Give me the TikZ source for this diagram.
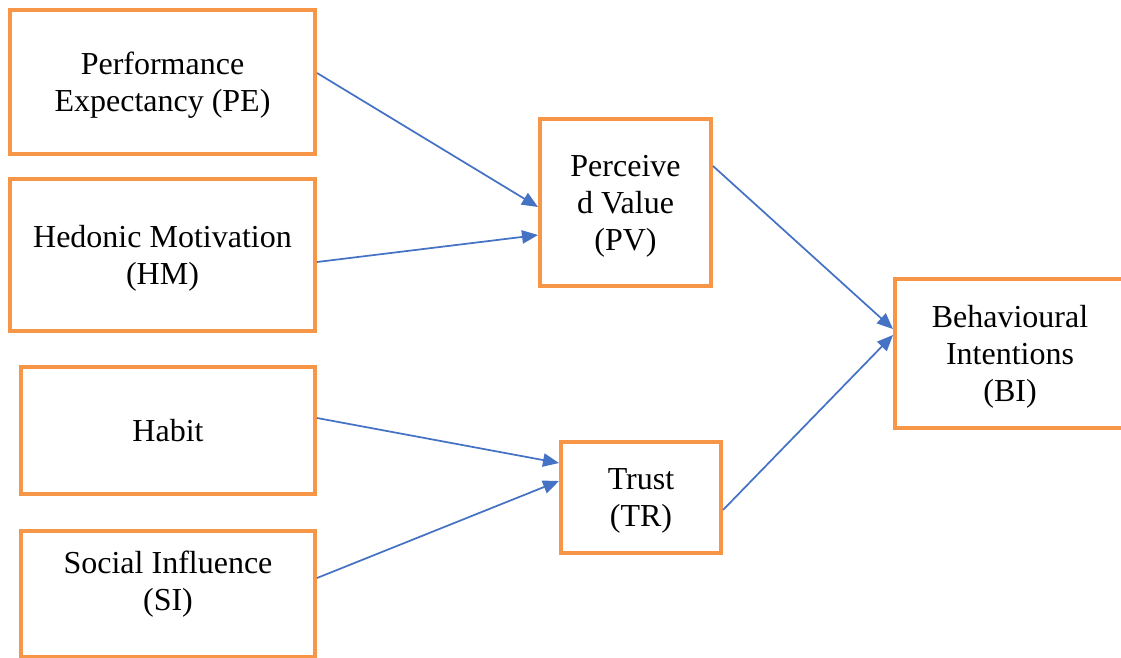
\documentclass[tikz,border=0pt]{standalone}
\usepackage{fontspec}
\setmainfont{Liberation Serif}
\newfontfamily\boxfont{Liberation Serif}
\usepackage{tikz}
\usetikzlibrary{calc}
\usetikzlibrary{arrows.meta}

\definecolor{boxorange}{HTML}{F79646}
\definecolor{linkblue}{HTML}{4472C4}

\begin{document}
\begin{tikzpicture}[x=0.75pt, y=-0.75pt,
        construct/.style={draw=boxorange, line width=3pt, fill=white, align=center, inner sep=0pt,
            text depth=-1.5pt, font=\boxfont\fontsize{24}{27.8}\selectfont},
        link/.style={draw=linkblue, line width=1.3pt, -{Triangle[length=12pt,width=10pt]}}]
        \useasboundingbox (0, 0) rectangle (1121, 657);
        \node[construct, minimum width=228.75pt, minimum height=108pt] (PE) at (162.5, 82) {Performance\\Expectancy (PE)};
        \node[construct, minimum width=228.75pt, minimum height=114pt] (HM) at (162.5, 255) {Hedonic Motivation\\(HM)};
        \node[construct, minimum width=220.5pt, minimum height=95.25pt] (HB) at (168, 430.5) {Habit};
        \node[construct, minimum width=220.5pt, minimum height=94.5pt, text depth=19.5pt] (SI) at (168, 594) {Social Influence\\(SI)};
        \node[construct, minimum width=128.25pt, minimum height=125.25pt] (PV) at (625.5, 202.5) {Perceive\\d Value\\(PV)};
        \node[construct, minimum width=120pt, minimum height=83.25pt] (TR) at (641, 497.5) {Trust\\(TR)};
        \node[construct, minimum width=172.5pt, minimum height=111.75pt] (BI) at (1010, 353.5) {Behavioural\\Intentions\\(BI)};
        \draw[link] ($(PE.east)+(0,-9)$) -- ($(PV.west)+(0,4.5)$);
        \draw[link] ($(HM.east)+(0,7)$) -- ($(PV.west)+(0,32.5)$);
        \draw[link] ($(HB.east)+(0,-12.5)$) -- ($(TR.west)+(0,-34.5)$);
        \draw[link] ($(SI.east)+(0,-16)$) -- ($(TR.west)+(0,-16.5)$);
        \draw[link] ($(PV.east)+(0,-36.5)$) -- ($(BI.west)+(0,-24.5)$);
        \draw[link] ($(TR.east)+(0,12.5)$) -- ($(BI.west)+(0,-18.5)$);
    \end{tikzpicture}
\end{document}
